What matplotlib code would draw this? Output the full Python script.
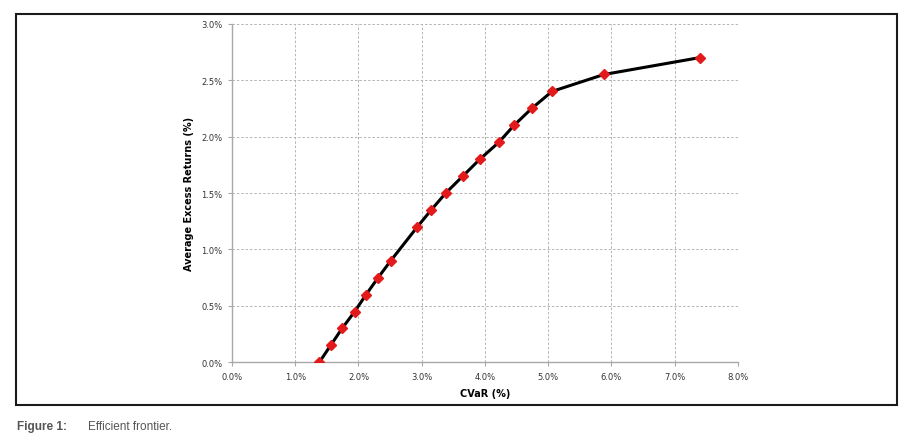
import matplotlib.pyplot as plt
from matplotlib.patches import Rectangle

# efficient frontier points (CVaR %, average excess return %)
cvar = [1.38, 1.56, 1.74, 1.94, 2.12, 2.31, 2.51, 2.93, 3.15, 3.38, 3.65, 3.92,
        4.22, 4.46, 4.74, 5.06, 5.88, 7.40]
ret = [0.00, 0.15, 0.30, 0.45, 0.60, 0.75, 0.90, 1.20, 1.35, 1.50, 1.65, 1.80,
       1.95, 2.10, 2.25, 2.40, 2.55, 2.70]

x_ticks = [0, 1, 2, 3, 4, 5, 6, 7, 8]
y_ticks = [0.0, 0.5, 1.0, 1.5, 2.0, 2.5, 3.0]

fig = plt.figure(figsize=(9.03, 4.39), dpi=100)

# outer frame around the chart
fig.patches.append(Rectangle((16 / 903, 1 - 406 / 439), 881 / 903, 391.5 / 439,
                             transform=fig.transFigure, fill=False,
                             edgecolor="#1a1a1a", linewidth=1.5))

ax = fig.add_axes([232 / 903, 1 - 363.3 / 439, 506 / 903, 338.6 / 439])

ax.plot(cvar, ret, color="black", linewidth=2.2, zorder=3)
ax.plot(cvar, ret, linestyle="none", marker="D", markersize=5,
        color="#e31a1c", markeredgecolor="#e31a1c", zorder=4)

ax.set_xlim(0, 8)
ax.set_ylim(0, 3)
ax.set_xticks(x_ticks)
ax.set_yticks(y_ticks)
ax.set_xticklabels([f"{v:.1f}%" for v in x_ticks])
ax.set_yticklabels([f"{v:.1f}%" for v in y_ticks])

ax.grid(True, linestyle=(0, (2.5, 2)), color="#b4b4b4", linewidth=0.7)
ax.set_axisbelow(True)

for side in ["top", "right"]:
    ax.spines[side].set_visible(False)
for side in ["left", "bottom"]:
    ax.spines[side].set_color("#a8a8a8")
    ax.spines[side].set_linewidth(1.0)

ax.tick_params(axis="both", labelsize=6, colors="#333333", length=3,
               width=0.8, pad=4)
ax.tick_params(axis="both", color="#a8a8a8")

ax.set_xlabel("CVaR (%)", fontsize=7, fontweight="bold", labelpad=5)
ax.set_ylabel("Average Excess Returns (%)", fontsize=7, fontweight="bold",
              labelpad=5)

fig.text(17 / 903, 1 - 427 / 439, "Figure 1:", fontsize=8.5, fontweight="bold",
         color="#555555", va="center", family="Liberation Sans")
fig.text(88 / 903, 1 - 427 / 439, "Efficient frontier.", fontsize=8.5,
         color="#555555", va="center", family="Liberation Sans")

fig.savefig("out.png", dpi=100)
